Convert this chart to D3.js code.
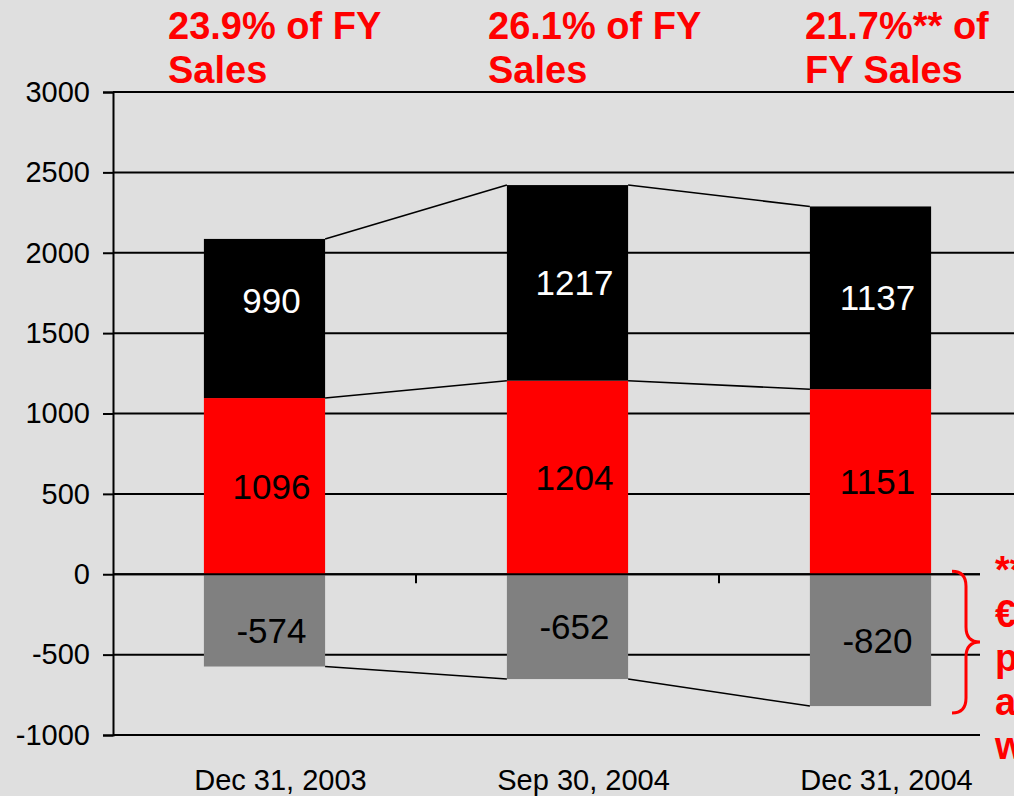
<!DOCTYPE html>
<html>
<head>
<meta charset="utf-8">
<script src="https://cdn.jsdelivr.net/npm/d3@7"></script>
<style>
    body { margin: 0; background: #dfdfdf; }
    svg { display: block; font-family: "Liberation Sans", Arial, sans-serif; }
</style>
</head>
<body>
<div id="chart"></div>
<script>
// chart data
var categories = ["Dec 31, 2003", "Sep 30, 2004", "Dec 31, 2004"];
var redValues = [1096, 1204, 1151];
var blackValues = [990, 1217, 1137];
var greyValues = [-574, -652, -820];
var yTicks = [3000, 2500, 2000, 1500, 1000, 500, 0, -500, -1000];
var titles = [["23.9% of FY", "Sales"], ["26.1% of FY", "Sales"], ["21.7%** of", "FY Sales"]];
var noteLines = ["**", "€", "p", "a", "w"];

function init(){
    var w = 1014;
    var h = 796;

    // layout
    var titleX = [168, 488, 805];
    // small hand nudges of the value labels (px), per bar: red, black, grey
    var labelNudge = [[0, -18, 10], [0, 0, 0], [0, 0, 0]];

    var xScale = d3.scaleBand()
                    .domain(categories)
                    .range([113, 1022])
                    .paddingInner(0)
                    .paddingOuter(0);

    var yScale = d3.scaleLinear()
                    .domain([-1000, 3000])
                    .range([735, 92]);

    var barW = xScale.bandwidth() * 0.4;
    function barX(c){ return xScale(c) + (xScale.bandwidth() - barW) / 2; }

    var svg = d3.select('#chart')
                .append('svg')
                .attr('width', w)
                .attr('height', h);

    svg.append('rect')
        .attr('width', w).attr('height', h)
        .attr('fill', '#dfdfdf');

    // gridlines
    svg.append('g')
        .selectAll('line')
        .data(yTicks)
        .enter()
        .append('line')
        .attr('x1', 113).attr('x2', w)
        .attr('y1', function(d){ return yScale(d); })
        .attr('y2', function(d){ return yScale(d); })
        .attr('stroke', '#000')
        .attr('stroke-width', 2);

    // y axis
    var yAxis = d3.axisLeft(yScale)
                    .tickValues(yTicks)
                    .tickFormat(function(d){ return String(d); })
                    .tickSize(10)
                    .tickPadding(13);
    var gy = svg.append('g')
        .attr('transform', 'translate(113,0)')
        .call(yAxis);
    gy.select('.domain').attr('stroke', '#000').attr('stroke-width', 2);
    gy.selectAll('.tick line').attr('stroke', '#000').attr('stroke-width', 2);
    gy.selectAll('.tick text')
        .attr('fill', '#000')
        .style('font-size', '29px')
        .style('font-family', '"Liberation Sans", Arial, sans-serif');

    // stacked segments
    var segments = [];
    categories.forEach(function(c, i){
        segments.push({c: c, y0: 0, y1: redValues[i], v: redValues[i], fill: '#ff0000', text: '#000', n: labelNudge[i][0]});
        segments.push({c: c, y0: redValues[i], y1: redValues[i] + blackValues[i], v: blackValues[i], fill: '#000000', text: '#fff', n: labelNudge[i][1]});
        segments.push({c: c, y0: greyValues[i], y1: 0, v: greyValues[i], fill: '#808080', text: '#000', n: labelNudge[i][2]});
    });

    svg.append('g')
        .selectAll('rect')
        .data(segments)
        .enter()
        .append('rect')
        .attr('x', function(d){ return barX(d.c); })
        .attr('y', function(d){ return yScale(d.y1); })
        .attr('width', barW)
        .attr('height', function(d){ return yScale(d.y0) - yScale(d.y1); })
        .attr('fill', function(d){ return d.fill; });

    // zero line on top
    svg.append('line')
        .attr('x1', 113).attr('x2', w)
        .attr('y1', yScale(0)).attr('y2', yScale(0))
        .attr('stroke', '#000').attr('stroke-width', 2);

    // category ticks on zero line
    svg.append('g')
        .selectAll('line')
        .data(categories.slice(1))
        .enter()
        .append('line')
        .attr('x1', function(d){ return xScale(d); })
        .attr('x2', function(d){ return xScale(d); })
        .attr('y1', yScale(0))
        .attr('y2', yScale(0) + 9)
        .attr('stroke', '#000').attr('stroke-width', 2);

    // connector lines between bars
    var levels = [
        categories.map(function(c, i){ return redValues[i] + blackValues[i]; }),
        redValues,
        greyValues
    ];
    var links = [];
    levels.forEach(function(lv){
        for (var i = 0; i < categories.length - 1; i++){
            links.push({a: categories[i], b: categories[i + 1], va: lv[i], vb: lv[i + 1]});
        }
    });
    svg.append('g')
        .selectAll('line')
        .data(links)
        .enter()
        .append('line')
        .attr('x1', function(d){ return barX(d.a) + barW; })
        .attr('y1', function(d){ return yScale(d.va); })
        .attr('x2', function(d){ return barX(d.b); })
        .attr('y2', function(d){ return yScale(d.vb); })
        .attr('stroke', '#000').attr('stroke-width', 1.6);

    // value labels
    svg.append('g')
        .selectAll('text')
        .data(segments)
        .enter()
        .append('text')
        .text(function(d){ return d.v; })
        .attr('x', function(d){ return barX(d.c) + barW / 2 + 7; })
        .attr('y', function(d){ return yScale((d.y0 + d.y1) / 2) + d.n; })
        .attr('dy', '0.36em')
        .attr('text-anchor', 'middle')
        .attr('fill', function(d){ return d.text; })
        .style('font-size', '35px');

    // category labels
    svg.append('g')
        .selectAll('text')
        .data(categories)
        .enter()
        .append('text')
        .text(function(d){ return d; })
        .attr('x', function(d){ return xScale(d) + xScale.bandwidth() / 2 + 16; })
        .attr('y', 790)
        .attr('text-anchor', 'middle')
        .attr('fill', '#000')
        .style('font-size', '29px');

    // red titles above bars
    var tg = svg.append('g')
        .selectAll('text')
        .data(titles)
        .enter()
        .append('text')
        .attr('fill', '#ff0000')
        .style('font-size', '38px')
        .style('font-weight', 'bold');
    tg.selectAll('tspan')
        .data(function(d, i){ return d.map(function(t){ return {t: t, i: i}; }); })
        .enter()
        .append('tspan')
        .attr('x', function(d){ return titleX[d.i]; })
        .attr('y', function(d, j){ return 39 + j * 44; })
        .text(function(d){ return d.t; });

    // footnote box on the right, with brace
    svg.append('rect')
        .attr('x', 980).attr('y', 548)
        .attr('width', w - 980).attr('height', h - 548)
        .attr('fill', '#dfdfdf');

    var bt = yScale(0) - 3, bb = yScale(-850) + 2, bm = (bt + bb) / 2;
    svg.append('path')
        .attr('d', 'M952,' + bt + ' Q966,' + bt + ' 966,' + (bt + 15) +
                   ' L966,' + (bm - 15) + ' Q966,' + bm + ' 980,' + bm +
                   ' Q966,' + bm + ' 966,' + (bm + 15) +
                   ' L966,' + (bb - 15) + ' Q966,' + bb + ' 952,' + bb)
        .attr('fill', 'none')
        .attr('stroke', '#ff0000')
        .attr('stroke-width', 3);

    svg.append('g')
        .selectAll('text')
        .data(noteLines)
        .enter()
        .append('text')
        .text(function(d){ return d; })
        .attr('x', 995)
        .attr('y', function(d, i){ return 583 + i * 44; })
        .attr('fill', '#ff0000')
        .style('font-size', '38px')
        .style('font-weight', 'bold');
}

window.onload = init;
</script>
</body>
</html>
